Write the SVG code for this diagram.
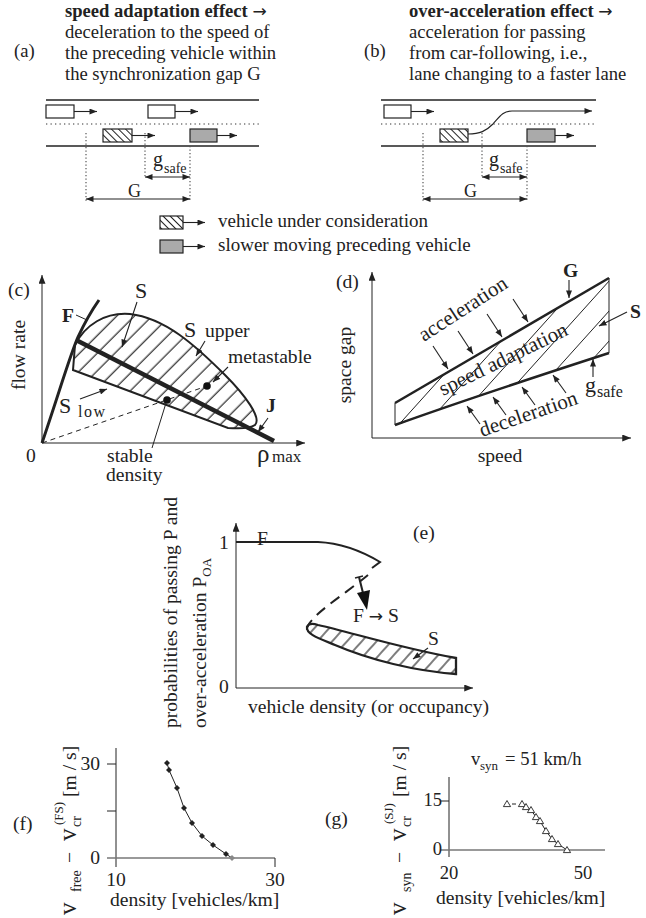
<svg xmlns="http://www.w3.org/2000/svg" xmlns:xlink="http://www.w3.org/1999/xlink" width="646" height="918" viewBox="0 0 646 918">
<style>
text{font-family:"Liberation Serif","Times New Roman",serif;fill:#222;}
.t18{font-size:18.6px;}
.t19{font-size:19.6px;}
.b{font-weight:bold;}
.ar{font-family:"DejaVu Sans",sans-serif;font-weight:normal;font-size:17px;}
.ln{stroke:#222;fill:none;stroke-width:1.2;}
.thin{stroke:#222;fill:none;stroke-width:1;}
.road{stroke:#222;stroke-width:1.5;fill:none;}
.dot{stroke:#777;stroke-width:1.3;stroke-dasharray:1.3 3.2;fill:none;}
.vdot{stroke:#555;stroke-width:1.2;stroke-dasharray:1.3 2.2;fill:none;}
.car{stroke:#222;stroke-width:1.2;}
.hl{stroke:#222;stroke-width:1;}
.arr{stroke:#222;stroke-width:1.1;fill:none;marker-end:url(#ah);}
.darr{stroke:#222;stroke-width:1.1;fill:none;marker-end:url(#ah);marker-start:url(#ah);}
</style>
<defs>
<marker id="ah" viewBox="0 0 10 8" refX="10" refY="4" markerWidth="8" markerHeight="6" markerUnits="userSpaceOnUse" orient="auto-start-reverse"><path d="M0,0 L10,4 L0,8 z" fill="#222"/></marker>
<marker id="axh" viewBox="0 0 10 8" refX="10" refY="4" markerWidth="9" markerHeight="7" markerUnits="userSpaceOnUse" orient="auto"><path d="M0,0 L10,4 L0,8 z" fill="#222"/></marker>
<pattern id="hcar" width="5" height="5" patternUnits="userSpaceOnUse" patternTransform="rotate(-45)"><rect width="5" height="5" fill="#fff"/><line x1="2.5" y1="0" x2="2.5" y2="5" stroke="#222" stroke-width="1"/></pattern>
<pattern id="hc" width="12.5" height="12.5" patternUnits="userSpaceOnUse" patternTransform="rotate(45)"><line x1="6" y1="0" x2="6" y2="12.5" stroke="#111" stroke-width="1.1"/></pattern>
<pattern id="he" width="11" height="11" patternUnits="userSpaceOnUse" patternTransform="rotate(42)"><line x1="5" y1="0" x2="5" y2="11" stroke="#111" stroke-width="1.1"/></pattern>
<clipPath id="cd"><path d="M395,403 L609,278 L609,353 Q470,398 395,425 Z"/></clipPath>
<path id="dm" d="M0,-3 L3,0 L0,3 L-3,0Z" fill="#222"/>
<path id="tri" d="M0,-3.5 L3.6,2.6 L-3.6,2.6Z" fill="#fff" stroke="#222" stroke-width="0.9"/>
</defs>
<rect width="646" height="918" fill="#fff"/>

<!-- (a) -->
<g id="panel-a">
<text class="t18" x="14" y="57">(a)</text>
<text class="t18 b" x="65" y="17">speed adaptation effect <tspan class="ar">→</tspan></text>
<text class="t18" x="65" y="38">deceleration to the speed of</text>
<text class="t18" x="65" y="59">the preceding vehicle within</text>
<text class="t18" x="65" y="80">the synchronization gap G</text>
<line class="road" x1="46" y1="100" x2="259" y2="100"/>
<line class="dot" x1="46" y1="124" x2="259" y2="124"/>
<line class="road" x1="46" y1="146" x2="259" y2="146"/>
<rect class="car" x="46" y="105" width="28" height="13" fill="#fff"/>
<rect class="car" x="148" y="105" width="27" height="13" fill="#fff"/>
<rect class="car" x="103" y="129" width="29" height="13" fill="url(#hcar)"/>
<rect class="car" x="190" y="129" width="27" height="13" fill="#aaa"/>
<line class="vdot" x1="86" y1="133" x2="86" y2="201"/>
<line class="vdot" x1="145" y1="133" x2="145" y2="178"/>
<line class="vdot" x1="190" y1="146" x2="190" y2="201"/>
<text x="153" y="166" style="font-size:20px">g</text>
<text x="164" y="173" style="font-size:14px">safe</text>
<text x="128" y="197" style="font-size:18px">G</text>
</g>

<!-- (b) -->
<g id="panel-b">
<text class="t18" x="364" y="57">(b)</text>
<text class="t18 b" x="409" y="17">over-acceleration effect <tspan class="ar">→</tspan></text>
<text class="t18" x="409" y="38">acceleration for passing</text>
<text class="t18" x="409" y="59">from car-following, i.e.,</text>
<text class="t18" x="409" y="80">lane changing to a faster lane</text>
<line class="road" x1="381" y1="100" x2="596" y2="100"/>
<line class="dot" x1="381" y1="124" x2="596" y2="124"/>
<line class="road" x1="381" y1="146" x2="596" y2="146"/>
<rect class="car" x="384" y="105" width="27" height="13" fill="#fff"/>
<rect class="car" x="440" y="129" width="28" height="13" fill="url(#hcar)"/>
<rect class="car" x="527" y="129" width="28" height="13" fill="#aaa"/>
<line class="vdot" x1="423" y1="133" x2="423" y2="201"/>
<line class="vdot" x1="482" y1="133" x2="482" y2="178"/>
<line class="vdot" x1="527" y1="146" x2="527" y2="201"/>
<text x="489" y="166" style="font-size:20px">g</text>
<text x="500" y="173" style="font-size:14px">safe</text>
<text x="464" y="197" style="font-size:18px">G</text>
</g>

<!-- legend -->
<g id="legend">
<rect class="car" x="160" y="216" width="23" height="13" fill="url(#hcar)"/>
<rect class="car" x="160" y="240" width="23" height="13" fill="#aaa"/>
<text x="218" y="227" style="font-size:19px">vehicle under consideration</text>
<text x="218" y="251" style="font-size:19px">slower moving preceding vehicle</text>
</g>

<!-- (c) -->
<g id="panel-c">
<path d="M73,370 L75,345 C85,325 105,312 130,314 C165,318 195,345 225,375 C245,395 262,418 255,425 C248,430 235,428 228,428 Z" fill="url(#hc)" stroke="#222" stroke-width="2"/>
<line x1="42" y1="443" x2="207" y2="386" stroke="#222" stroke-width="1" stroke-dasharray="5 4"/>
<path d="M42,443 C60,390 70,355 78,337 C85,322 92,310 99,300" stroke="#222" stroke-width="3" fill="none"/>
<line x1="76" y1="340" x2="274" y2="441" stroke="#222" stroke-width="4.5"/>
<circle cx="167" cy="400" r="3.8" fill="#111"/>
<circle cx="207" cy="386" r="3.8" fill="#111"/>
<line class="thin" x1="42" y1="443" x2="42" y2="275" marker-end="url(#axh)"/>
<line class="thin" x1="42" y1="443" x2="305" y2="443" marker-end="url(#axh)"/>
<text class="t19" x="8" y="296">(c)</text>
<text class="t19" transform="translate(25,355) rotate(-90)" text-anchor="middle">flow rate</text>
<text class="t19 b" x="62" y="322">F</text>
<text x="135" y="298" style="font-size:22px">S</text>
<text x="184" y="337" style="font-size:22px">S</text>
<text x="205" y="337" style="font-size:19.6px">upper</text>
<text class="t19" x="228" y="363">metastable</text>
<text x="59" y="413" style="font-size:22px">S</text>
<text x="78" y="417" style="font-size:16px;letter-spacing:1.5px">low</text>
<text class="t19 b" x="266" y="412">J</text>
<text class="t19" x="26" y="462">0</text>
<text class="t19" x="107" y="462">stable</text>
<text class="t19" x="106" y="481">density</text>
<text x="257" y="462" style="font-size:25px">ρ</text>
<text x="272" y="462" style="font-size:17px">max</text>
<g id="connectors-c">
<line class="thin" x1="76" y1="315" x2="87" y2="320"/>
<line class="thin" x1="152" y1="448" x2="166" y2="403"/>
<line class="arr" x1="137" y1="302" x2="122" y2="347"/>
<line class="arr" x1="205" y1="341" x2="196" y2="356"/>
<line class="arr" x1="228" y1="367" x2="213" y2="382"/>
<line class="arr" x1="80" y1="399" x2="107" y2="389"/>
<line class="arr" x1="268" y1="418" x2="258" y2="432"/>
</g>
</g>

<!-- (d) -->
<g id="panel-d">
<g clip-path="url(#cd)">
<line class="hl" x1="340" y1="430" x2="484" y2="270"/>
<line class="hl" x1="367" y1="430" x2="511" y2="270"/>
<line class="hl" x1="394" y1="430" x2="538" y2="270"/>
<line class="hl" x1="421" y1="430" x2="565" y2="270"/>
<line class="hl" x1="448" y1="430" x2="592" y2="270"/>
<line class="hl" x1="475" y1="430" x2="619" y2="270"/>
<line class="hl" x1="502" y1="430" x2="646" y2="270"/>
<line class="hl" x1="529" y1="430" x2="673" y2="270"/>
<line class="hl" x1="556" y1="430" x2="700" y2="270"/>
<line class="hl" x1="583" y1="430" x2="727" y2="270"/>
</g>
<path d="M395,403 L609,278 L609,353 Q470,398 395,425 Z" fill="none" stroke="#222" stroke-width="1"/>
<line x1="395" y1="403" x2="609" y2="278" stroke="#222" stroke-width="2.5"/>
<path d="M395,425 Q470,398 609,353" stroke="#222" stroke-width="2.5" fill="none"/>
<line class="thin" x1="372" y1="438" x2="372" y2="272" marker-end="url(#axh)"/>
<line class="thin" x1="372" y1="438" x2="631" y2="438" marker-end="url(#axh)"/>
<text class="t19" x="336" y="288">(d)</text>
<text class="t19" transform="translate(351,365) rotate(-90)" text-anchor="middle">space gap</text>
<text class="t19" x="500" y="462" text-anchor="middle">speed</text>
<text style="font-size:21px" transform="translate(424,342) rotate(-33)">acceleration</text>
<text style="font-size:21px" transform="translate(443,396) rotate(-26)">speed adaptation</text>
<text style="font-size:21px" transform="translate(482,437) rotate(-19)">deceleration</text>
<text class="t19 b" x="563" y="277">G</text>
<text class="t19 b" x="630" y="318">S</text>
<text x="585" y="392" style="font-size:22px">g</text>
<text x="597" y="397" style="font-size:16px">safe</text>
<g id="connectors-d">
<line class="arr" x1="433" y1="346" x2="448" y2="369"/>
<line class="arr" x1="458" y1="331" x2="473" y2="354"/>
<line class="arr" x1="487" y1="314" x2="502" y2="337"/>
<line class="arr" x1="513" y1="299" x2="528" y2="322"/>
<line class="arr" x1="569" y1="280" x2="569" y2="298"/>
<line class="arr" x1="480" y1="424" x2="467" y2="406"/>
<line class="arr" x1="506" y1="415" x2="493" y2="397"/>
<line class="arr" x1="535" y1="405" x2="522" y2="387"/>
<line class="arr" x1="566" y1="393" x2="553" y2="375"/>
<line class="arr" x1="593" y1="377" x2="593" y2="359"/>
<line class="arr" x1="627" y1="312" x2="599" y2="326"/>
</g>
</g>

<!-- (e) -->
<g id="panel-e">
<path d="M307,627 Q309,622 318,625 C350,632 400,648 456,658 L456,674 C415,671 370,660 335,645 C318,638 306,634 307,627 Z" fill="url(#he)" stroke="#222" stroke-width="2.3"/>
<path d="M236,542 L318,542 C340,543 360,550 380,562 L372,568" stroke="#222" stroke-width="2" fill="none"/>
<path d="M368,575 C350,590 322,608 312,620 Q306,627 307,630" stroke="#222" stroke-width="2" fill="none" stroke-dasharray="11 7"/>
<line class="thin" x1="236" y1="688" x2="236" y2="523" marker-end="url(#axh)"/>
<line class="thin" x1="236" y1="688" x2="473" y2="688" marker-end="url(#axh)"/>
<text class="t19" x="219" y="549">1</text>
<text class="t19" x="219" y="693">0</text>
<text class="t19" x="257" y="545">F</text>
<text class="t19" x="413" y="539">(e)</text>
<text class="t19" x="353" y="622">F <tspan class="ar">→</tspan> S</text>
<text class="t19" x="428" y="645">S</text>
<text class="t19" x="248" y="713">vehicle density (or occupancy)</text>
<text class="t19" transform="translate(177,728) rotate(-90)">probabilities of passing P and</text>
<text class="t19" transform="translate(206,728) rotate(-90)">over-acceleration  P<tspan dy="5" style="font-size:13px">OA</tspan></text>
<g id="connectors-e">
<line x1="355" y1="578" x2="363" y2="576" stroke="#222" stroke-width="1.5"/>
<line x1="359" y1="577" x2="363" y2="593" stroke="#222" stroke-width="2"/>
<polygon points="367,610 370,590 357,593" fill="#111"/>
<line class="arr" x1="428" y1="648" x2="413" y2="659"/>
</g>
</g>

<!-- (f) -->
<g id="panel-f">
<line x1="116" y1="748" x2="116" y2="867" stroke="#222" stroke-width="1"/>
<line x1="107" y1="858" x2="275" y2="858" stroke="#777" stroke-width="1.6"/>
<line x1="107" y1="764" x2="116" y2="764" stroke="#222" stroke-width="1"/>
<line x1="107" y1="811" x2="116" y2="811" stroke="#222" stroke-width="1"/>
<line x1="275" y1="858" x2="275" y2="867" stroke="#222" stroke-width="1"/>
<text class="t19" x="100" y="770" text-anchor="end">30</text>
<text class="t19" x="100" y="864" text-anchor="end">0</text>
<text class="t19" x="116" y="886" text-anchor="middle">10</text>
<text class="t19" x="275" y="886" text-anchor="middle">30</text>
<text class="t19" x="110" y="906">density [vehicles/km]</text>
<text class="t19" x="13" y="830">(f)</text>
<g transform="translate(76,915) rotate(-90)">
<text x="0" y="0" style="font-size:25px">v</text>
<text x="23" y="5" style="font-size:14px">free</text>
<text x="52" y="0" class="t19">−</text>
<text x="74" y="0" style="font-size:25px">v</text>
<text x="88" y="5" style="font-size:14px">cr</text>
<text x="90" y="-13" style="font-size:13px">(FS)</text>
<text x="118" y="0" class="t19">[m / s]</text>
</g>
<polyline points="167,763 169,770 177,788 184,808 192,823 202,836 213,845 226,854 232,858" fill="none" stroke="#222" stroke-width="1"/>
<use href="#dm" x="167" y="763"/>
<use href="#dm" x="169" y="770"/>
<use href="#dm" x="177" y="788"/>
<use href="#dm" x="184" y="808"/>
<use href="#dm" x="192" y="823"/>
<use href="#dm" x="202" y="836"/>
<use href="#dm" x="213" y="845"/>
<use href="#dm" x="226" y="854"/>
<path d="M232,855 L235,858 L232,861 L229,858Z" fill="#888"/>
</g>

<!-- (g) -->
<g id="panel-g">
<line x1="449" y1="777" x2="449" y2="857" stroke="#222" stroke-width="1"/>
<line x1="441" y1="850" x2="605" y2="850" stroke="#777" stroke-width="1.6"/>
<line x1="441" y1="801" x2="449" y2="801" stroke="#222" stroke-width="1"/>
<text class="t18" x="442" y="806" text-anchor="end">15</text>
<text class="t18" x="442" y="855" text-anchor="end">0</text>
<text class="t18" x="449" y="879" text-anchor="middle">20</text>
<text class="t18" x="583" y="879" text-anchor="middle">50</text>
<text class="t19" x="436" y="904">density [vehicles/km]</text>
<text class="t19" x="325" y="825">(g)</text>
<text class="t18" x="471" y="765">v</text>
<text x="480" y="770" style="font-size:13px">syn</text>
<text class="t18" x="505" y="765">= 51 km/h</text>
<g transform="translate(406,915) rotate(-90)">
<text x="0" y="0" style="font-size:25px">v</text>
<text x="23" y="5" style="font-size:14px">syn</text>
<text x="52" y="0" class="t19">−</text>
<text x="74" y="0" style="font-size:25px">v</text>
<text x="88" y="5" style="font-size:14px">cr</text>
<text x="91" y="-13" style="font-size:13px">(SJ)</text>
<text x="118" y="0" class="t19">[m / s]</text>
</g>
<line x1="512" y1="804" x2="516" y2="804" stroke="#222" stroke-width="1"/>
<polyline points="522,804 526,807 531,810 536,817 540,821 546,831 552,839 558,844 567,850" fill="none" stroke="#222" stroke-width="1"/>
<use href="#tri" x="507" y="804"/>
<use href="#tri" x="522" y="804"/>
<use href="#tri" x="526" y="807"/>
<use href="#tri" x="531" y="810"/>
<use href="#tri" x="536" y="817"/>
<use href="#tri" x="540" y="821"/>
<use href="#tri" x="546" y="831"/>
<use href="#tri" x="552" y="839"/>
<use href="#tri" x="558" y="844"/>
<use href="#tri" x="567" y="850"/>
</g>

<!-- connectors: arrows of the traffic sketches -->
<g id="connectors">
<line class="arr" x1="74" y1="111.5" x2="97" y2="111.5"/>
<line class="arr" x1="175" y1="111.5" x2="198" y2="111.5"/>
<line class="arr" x1="132" y1="135.5" x2="155" y2="135.5"/>
<line class="arr" x1="217" y1="135.5" x2="237" y2="135.5"/>
<line class="darr" x1="145" y1="177" x2="190" y2="177"/>
<line class="darr" x1="86" y1="199" x2="190" y2="199"/>
<line class="arr" x1="411" y1="111.5" x2="434" y2="111.5"/>
<path class="arr" d="M468,134 C480,134 486,131 493,124 C500,116 503,111 512,111 L592,111"/>
<line class="arr" x1="555" y1="135.5" x2="574" y2="135.5"/>
<line class="darr" x1="482" y1="177" x2="527" y2="177"/>
<line class="darr" x1="423" y1="199" x2="527" y2="199"/>
<line class="arr" x1="183" y1="222.5" x2="205" y2="222.5"/>
<line class="arr" x1="183" y1="246.5" x2="205" y2="246.5"/>
</g>
</svg>
